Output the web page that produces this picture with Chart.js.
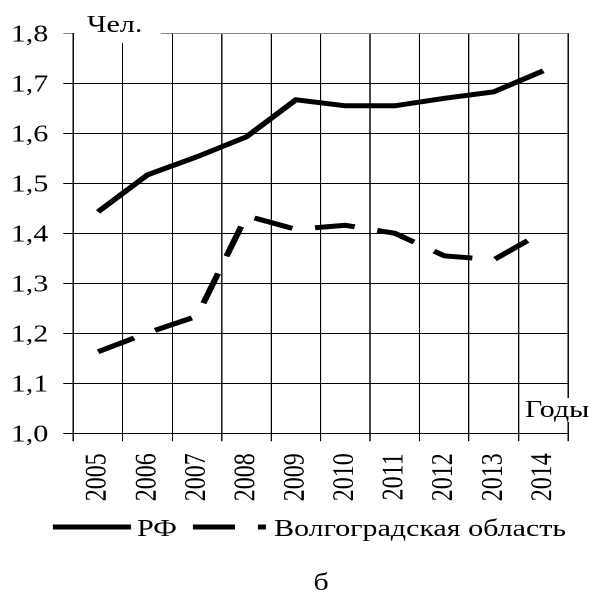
<!DOCTYPE html>
<html lang="ru">
<head>
<meta charset="utf-8">
<title>Численность</title>
<script src="https://cdn.jsdelivr.net/npm/chart.js@4/dist/chart.umd.min.js"></script>
<style>
  html, body { margin: 0; padding: 0; background: #fff; overflow: hidden; }
  /* the figure is drawn narrow and widened horizontally, like the source document */
  #wrap {
    position: relative;
    width: 476px;
    height: 597px;
    transform: scaleX(1.25);
    transform-origin: 0 0;
  }
</style>
</head>
<body>
<div id="wrap"><canvas id="myChart"></canvas></div>
<script>
const years = ['2005', '2006', '2007', '2008', '2009', '2010', '2011', '2012', '2013', '2014'];
const rf = [1.443, 1.517, 1.553, 1.593, 1.667, 1.655, 1.655, 1.670, 1.683, 1.725];
const volgograd = [1.163, 1.201, 1.234, 1.435, 1.408, 1.416, 1.400, 1.355, 1.347, 1.403];
const yTicks = [1.0, 1.1, 1.2, 1.3, 1.4, 1.5, 1.6, 1.7, 1.8];

const SX = 1.25;
const FONT = "'Liberation Serif', 'Times New Roman', serif";

//Global options
Chart.defaults.font.family = FONT;
Chart.defaults.font.size = 24;
Chart.defaults.color = '#000';

// captions, legend and letter under the chart
const extras = {
  id: 'extras',
  afterDraw(chart) {
    const ctx = chart.ctx;
    ctx.save();
    ctx.fillStyle = '#fff';
    // box behind "Чел."
    ctx.fillRect(59.6, 18, 128.8 - 59.6, 43 - 18);
    // box behind "Годы"
    ctx.fillRect(532 / SX, 398, 476 - 532 / SX, 24);

    ctx.fillStyle = '#000';
    ctx.font = '24px ' + FONT;
    ctx.textBaseline = 'alphabetic';
    ctx.textAlign = 'left';
    ctx.fillText('Чел.', 87 / SX, 32);
    ctx.fillText('Годы', 525 / SX, 417);

    // legend
    ctx.strokeStyle = '#000';
    ctx.lineWidth = 5;
    ctx.lineCap = 'butt';
    ctx.beginPath();
    ctx.moveTo(53 / SX, 527);
    ctx.lineTo(131 / SX, 527);
    ctx.stroke();
    ctx.fillText('РФ', 137 / SX, 536);

    ctx.beginPath();
    ctx.moveTo(193 / SX, 527);
    ctx.lineTo(235 / SX, 527);
    ctx.stroke();
    ctx.fillRect(258 / SX, 524.5, 8 / SX, 5);
    ctx.fillText('Волгоградская область', 274 / SX, 536);

    ctx.textAlign = 'center';
    ctx.fillText('б', 321 / SX, 590);
    ctx.restore();
  }
};

const config = {
  type: 'line',
  data: {
    labels: years,
    datasets: [
      {
        label: 'РФ',
        data: rf,
        borderColor: '#000',
        borderWidth: 5,
        pointRadius: 0,
        tension: 0,
      },
      {
        label: 'Волгоградская область',
        data: volgograd,
        borderColor: '#000',
        borderWidth: 5,
        borderDash: [32, 18.4],
        pointRadius: 0,
        tension: 0,
      },
    ],
  },
  options: {
    responsive: true,
    maintainAspectRatio: false,
    animation: false,
    devicePixelRatio: 2,
    layout: {
      padding: { top: 33.3, right: 476 - 579 / SX, bottom: 0, left: 0 },
    },
    plugins: {
      legend: { display: false },
      tooltip: { enabled: false },
    },
    scales: {
      x: {
        offset: true,
        grid: {
          offset: true,
          color: (c) => (c.index === years.length ? '#888' : '#000'),
          lineWidth: 1,
          tickLength: 8,
        },
        border: { color: '#000', width: 1 },
        ticks: {
          autoSkip: false,
          minRotation: 90,
          maxRotation: 90,
          padding: 12,
          font: { size: 24 },
        },
        afterFit(scale) {
          scale.height = 597 - 433.3;
        },
      },
      y: {
        min: 1.0,
        max: 1.8,
        afterBuildTicks(scale) {
          scale.ticks = yTicks.map((v) => ({ value: v }));
        },
        grid: {
          color: (c) => (c.tick && c.tick.value === 1.8 ? '#888' : '#000'),
          lineWidth: 1,
          tickLength: 8,
        },
        border: { color: '#000', width: 1 },
        ticks: {
          padding: 12,
          labelOffset: 2,
          font: { size: 24 },
          callback: (v) => Number(v).toFixed(1).replace('.', ','),
        },
        afterFit(scale) {
          scale.width = 73.3 / SX;
        },
      },
    },
  },
  plugins: [extras],
};

new Chart(document.getElementById('myChart'), config);
</script>
</body>
</html>
